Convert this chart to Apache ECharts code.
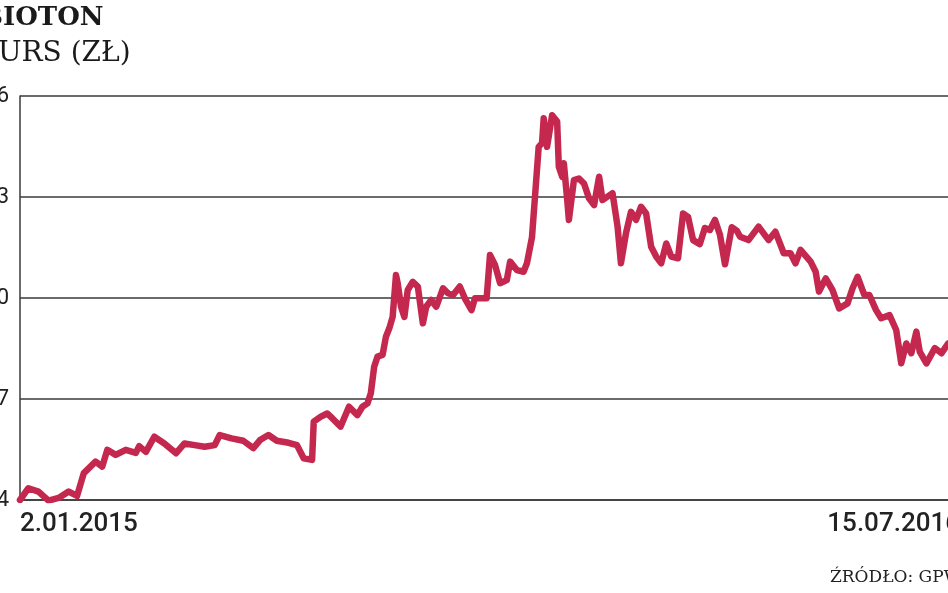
<!DOCTYPE html>
<html>
<head>
<meta charset="utf-8">
<script src="https://cdn.jsdelivr.net/npm/echarts@6/dist/echarts.min.js"></script>
<style>
html,body{margin:0;padding:0;background:#fff;}
#chart{width:948px;height:593px;}
</style>
</head>
<body>
<div id="chart"></div>
<script>
// Day offsets from 2.01.2015 (calendar days) and closing prices (zł)
const dayOffsets = [0,5,11,17,23,29,34,38,45,49,52,57,63,69,71,75,80,86,93,98,104,110,116,119,126,133,139,143,148,153,160,165,169,174,175,179,183,186,191,196,201,204,207,209,211,213,216,218,220,222,224,225,227,229,231,234,237,240,242,245,248,252,255,258,262,265,269,271,275,278,280,283,286,290,292,296,300,302,305,309,311,312,314,317,320,321,323,324,326,327,330,333,336,339,342,345,347,350,353,356,358,361,364,367,370,373,376,379,382,385,388,392,395,398,401,405,408,411,414,417,420,424,427,429,434,440,446,450,455,459,462,465,471,474,476,480,484,488,493,496,499,503,506,510,513,518,522,525,528,531,534,536,540,545,549,553];
const prices = [4.00,4.35,4.25,3.98,4.06,4.25,4.12,4.80,5.14,4.99,5.49,5.34,5.49,5.40,5.60,5.43,5.88,5.68,5.39,5.68,5.63,5.58,5.63,5.93,5.83,5.76,5.54,5.78,5.93,5.76,5.70,5.63,5.24,5.19,6.33,6.47,6.57,6.43,6.18,6.77,6.52,6.77,6.87,7.17,7.96,8.26,8.31,8.85,9.10,9.44,10.68,10.44,9.74,9.44,10.24,10.48,10.34,9.25,9.74,9.94,9.74,10.29,10.14,10.09,10.34,9.99,9.64,9.99,9.99,9.99,11.28,10.98,10.44,10.53,11.08,10.83,10.78,11.03,11.80,14.49,14.60,15.34,14.49,15.43,15.24,13.90,13.60,14.00,12.91,12.32,13.50,13.55,13.40,12.96,12.76,13.60,12.91,13.01,13.11,12.12,11.03,11.92,12.56,12.32,12.71,12.51,11.52,11.23,11.03,11.62,11.23,11.18,12.51,12.41,11.72,11.60,12.08,12.02,12.32,11.88,11.00,12.10,12.00,11.82,11.72,12.12,11.72,11.97,11.33,11.33,11.03,11.43,11.08,10.78,10.19,10.58,10.24,9.69,9.84,10.29,10.63,10.09,10.09,9.64,9.40,9.49,9.05,8.06,8.65,8.36,9.00,8.41,8.06,8.51,8.36,8.65];
const dateLabels = ['2.01.2015', '15.07.2016'];
const yTicks = [4, 7, 10, 13, 16];
const titleText = 'BIOTON';
const subtitleText = 'KURS (ZŁ)';
const sourceText = 'ŹRÓDŁO: GPW';

const seriesData = dayOffsets.map((d, i) => [d, prices[i]]);
const lastDay = 560;

const chart = echarts.init(document.getElementById('chart'), null, {renderer: 'canvas'});
chart.setOption({
  animation: false,
  backgroundColor: '#ffffff',
  grid: {left: 20, top: 96, width: 940, height: 404, containLabel: false, outerBoundsMode: 'none'},
  xAxis: {
    type: 'value',
    min: 0,
    max: lastDay,
    interval: lastDay,
    axisLine: {show: true, lineStyle: {color: '#3a3a3a', width: 1.5}},
    axisTick: {show: false},
    splitLine: {show: false},
    axisLabel: {
      margin: 11,
      fontFamily: 'Roboto, "Liberation Sans", sans-serif',
      fontSize: 26,
      fontWeight: 500,
      color: '#222',
      alignMinLabel: 'left',
      alignMaxLabel: 'right',
      formatter: v => (v === 0 ? dateLabels[0] : dateLabels[1])
    }
  },
  yAxis: {
    type: 'value',
    min: yTicks[0],
    max: yTicks[yTicks.length - 1],
    interval: yTicks[1] - yTicks[0],
    axisLine: {show: true, lineStyle: {color: '#3a3a3a', width: 1.5}},
    axisTick: {show: false},
    splitLine: {show: true, lineStyle: {color: '#3a3a3a', width: 1.5}},
    axisLabel: {
      margin: 11,
      fontFamily: 'Roboto, "Liberation Sans", sans-serif',
      fontSize: 22,
      color: '#222'
    }
  },
  series: [{
    type: 'line',
    data: seriesData,
    showSymbol: false,
    symbol: 'none',
    lineStyle: {color: '#c4284f', width: 6.5, cap: 'round', join: 'round'},
    z: 3
  }],
  graphic: [
    {type: 'text', left: -19, top: 5, style: {text: titleText, font: 'bold 26px "DejaVu Serif", serif', fill: '#1a1a1a'}},
    {type: 'text', left: -22, top: 40, style: {text: subtitleText, font: '28px "DejaVu Serif", serif', fill: '#1a1a1a'}},
    {type: 'text', left: 830, top: 569, style: {text: sourceText, font: '17px "DejaVu Serif", serif', fill: '#222'}}
  ]
});
</script>
</body>
</html>
